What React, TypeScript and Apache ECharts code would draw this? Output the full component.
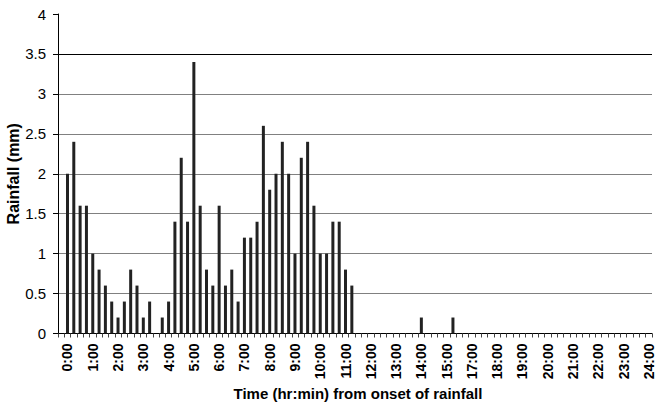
import React, { useEffect, useRef } from "react";
import * as echarts from "echarts";

// Hour labels shown on the category axis (16:00 is absent in the source)
const hourLabels = [
  "0:00", "1:00", "2:00", "3:00", "4:00", "5:00", "6:00", "7:00", "8:00", "9:00",
  "10:00", "11:00", "12:00", "13:00", "14:00", "15:00", "17:00", "18:00", "19:00",
  "20:00", "21:00", "22:00", "23:00", "24:00",
];

// Rainfall (mm) in 15-minute slots from 0:00 onward
const earlyRain = [
  2.0, 2.4, 1.6, 1.6, 1.0, 0.8, 0.6, 0.4, 0.2, 0.4, 0.8, 0.6, 0.2, 0.4, 0, 0.2,
  0.4, 1.4, 2.2, 1.4, 3.4, 1.6, 0.8, 0.6, 1.6, 0.6, 0.8, 0.4, 1.2, 1.2, 1.4, 2.6,
  1.8, 2.0, 2.4, 2.0, 1.0, 2.2, 2.4, 1.6, 1.0, 1.0, 1.4, 1.4, 0.8, 0.6,
];

// Later isolated showers: slot number on the axis and rainfall (mm)
const lateSlots = [57, 62];
const lateRain = [0.2, 0.2];

const SLOT_COUNT = 94; // one leading empty slot + 93 slots
const LABEL_EVERY = 4;

const categories: string[] = [];
for (let i = 0; i < SLOT_COUNT; i++) {
  const k = i - 1;
  categories.push(k >= 0 && k % LABEL_EVERY === 0 && hourLabels[k / LABEL_EVERY] ? hourLabels[k / LABEL_EVERY] : `slot-${i}`);
}
const seriesData: (number | null)[] = categories.map(() => null);
earlyRain.forEach((v, i) => { seriesData[i + 1] = v; });
lateSlots.forEach((s, i) => { seriesData[s] = lateRain[i]; });

const FONT = "'Liberation Sans', Arial, sans-serif";

export default function App() {
  const ref = useRef<HTMLDivElement>(null);
  useEffect(() => {
    if (!ref.current) return;
    const chart = echarts.init(ref.current, null, { renderer: "svg" });
    chart.setOption({
      animation: false,
      backgroundColor: "#ffffff",
      textStyle: { fontFamily: FONT },
      grid: { left: 58, right: 4, top: 14, bottom: 76.5, containLabel: false, outerBoundsMode: "none" },
      xAxis: {
        type: "category",
        data: categories,
        boundaryGap: true,
        name: "Time (hr:min) from onset of rainfall",
        nameLocation: "middle",
        nameGap: 52,
        nameMoveOverlap: false,
        nameTextStyle: { fontFamily: FONT, fontSize: 15, fontWeight: "bold", color: "#000", padding: [0, 0, 0, 6] },
        axisLine: { lineStyle: { color: "#000", width: 1 } },
        axisTick: { show: true, interval: 0, length: 4, lineStyle: { color: "#444" } },
        axisLabel: {
          interval: (index: number) => index >= 1 && (index - 1) % LABEL_EVERY === 0 && !!hourLabels[(index - 1) / LABEL_EVERY],
          rotate: 90,
          margin: 10,
          fontFamily: FONT,
          fontSize: 14,
          lineHeight: 12,
          fontWeight: "bold",
          color: "#000",
        },
        splitLine: { show: false },
      },
      yAxis: {
        type: "value",
        min: 0,
        max: 4,
        interval: 0.5,
        name: "Rainfall (mm)",
        nameLocation: "middle",
        nameGap: 37,
        nameMoveOverlap: false,
        nameTextStyle: { fontFamily: FONT, fontSize: 16, lineHeight: 16, fontWeight: "bold", color: "#000" },
        axisLine: { show: true, lineStyle: { color: "#000", width: 1 } },
        axisTick: { show: true, length: 5, lineStyle: { color: "#000" } },
        axisLabel: { margin: 12, fontFamily: FONT, fontSize: 15, color: "#000" },
        splitLine: { show: true, showMinLine: false, showMaxLine: false, lineStyle: { color: "#808080", width: 1 } },
      },
      series: [
        {
          type: "bar",
          data: seriesData,
          barWidth: 3,
          itemStyle: { color: "#222222" },
          markLine: {
            silent: true,
            symbol: "none",
            label: { show: false },
            lineStyle: { color: "#000", width: 1, type: "solid" },
            data: [{ yAxis: 3.5 }],
          },
        },
      ],
    });
    return () => chart.dispose();
  }, []);
  return (
    <div
      ref={ref}
      style={{ position: "fixed", left: 0, top: 0, width: 656, height: 410, background: "#fff" }}
    />
  );
}
